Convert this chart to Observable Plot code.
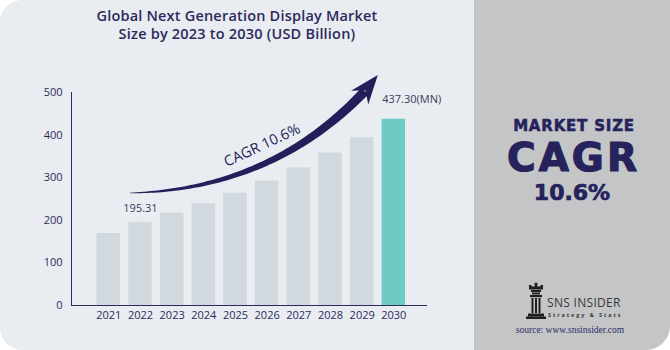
<!DOCTYPE html>
<html>
<head>
<meta charset="utf-8">
<script src="https://cdn.jsdelivr.net/npm/d3@7"></script>
<script src="https://cdn.jsdelivr.net/npm/@observablehq/plot@0.6"></script>
<style>
  body { margin: 0; background: #ffffff; font-family: "Open Sans", sans-serif; }
  #wrap { position: relative; width: 670px; height: 350px; overflow: hidden; background: #ffffff; }
  #left { position: absolute; left: 0; top: 0; width: 474px; height: 350px; background: #e9ecf1; border-radius: 22px 0 0 22px; }
  #right { position: absolute; left: 474px; top: 0; width: 196px; height: 350px; background: #c4c5c7; border-radius: 0 0 24px 0; }
  #title { position: absolute; left: 0; top: 7px; width: 474px; text-align: center; font-weight: 600; font-size: 14.5px; letter-spacing: 0.2px; line-height: 18px; color: #2b2a5c; }
  #chart { position: absolute; left: 0; top: 0; }
  .rt { position: absolute; left: 474px; width: 196px; text-align: center; color: #25225c; font-weight: 700; white-space: nowrap; font-family: "DejaVu Sans", sans-serif; -webkit-text-stroke: 0.5px #25225c; }
  #ms { top: 117.8px; left: 476px; font-size: 15px; line-height: 17px; letter-spacing: 0.8px; }
  #cagr { top: 134.5px; font-size: 39px; line-height: 46px; letter-spacing: 3px; text-indent: 3px; -webkit-text-stroke: 1.2px #25225c; }
  #pct { top: 180.4px; font-size: 22px; line-height: 26px; -webkit-text-stroke: 0.7px #25225c; }
  #logo { position: absolute; left: 526px; top: 282px; }
  #sns { position: absolute; left: 547px; top: 296px; font-size: 12px; line-height: 14px; color: #3a3a3a; letter-spacing: 0.3px; }
  #tag { position: absolute; left: 548px; top: 312px; font-size: 5.5px; line-height: 7px; color: #3a3a3a; letter-spacing: 1.9px; font-weight: 700; }
  #src { position: absolute; left: 472px; width: 196px; top: 325px; text-align: center; font-family: "Liberation Serif", "DejaVu Serif", serif; font-size: 9.5px; color: #2c2a6a; }
</style>
</head>
<body>
<div id="wrap">
  <div id="left"></div>
  <div id="right"></div>
  <div id="title">Global Next Generation Display Market<br>Size by 2023 to 2030 (USD Billion)</div>
  <div id="chart"></div>
  <div class="rt" id="ms">MARKET SIZE</div>
  <div class="rt" id="cagr">CAGR</div>
  <div class="rt" id="pct">10.6%</div>
  <svg id="logo" width="20" height="37" viewBox="0 0 20 37">
    <g fill="#1f1f1f">
      <circle cx="10" cy="2" r="1.6"/>
      <rect x="3" y="4.5" width="14" height="3"/>
      <rect x="3" y="3" width="2.5" height="2"/>
      <rect x="8.7" y="3" width="2.6" height="2"/>
      <rect x="14.5" y="3" width="2.5" height="2"/>
      <rect x="5" y="8" width="10" height="2"/>
      <rect x="6" y="10.5" width="8" height="2"/>
      <rect x="4" y="13" width="12" height="2.2"/>
      <rect x="5.5" y="16" width="2" height="15"/>
      <rect x="9" y="16" width="2" height="15"/>
      <rect x="12.5" y="16" width="2" height="15"/>
      <rect x="2" y="31.5" width="16" height="3"/>
      <rect x="0" y="34.5" width="20" height="2.5"/>
    </g>
  </svg>
  <div id="sns">SNS INSIDER</div>
  <div id="tag">Strategy &amp; Stats</div>
  <div id="src">source: www.snsinsider.com</div>
</div>
<script>
// ---- data ----
const years = ["2021", "2022", "2023", "2024", "2025", "2026", "2027", "2028", "2029", "2030"];
const values = [169, 195.31, 217, 239, 263.5, 292, 323, 357.5, 394, 437.30];
const highlightYear = "2030";
const yTicks = [0, 100, 200, 300, 400, 500];
const startLabel = { year: "2022", value: 195.31, text: "195.31" };
const endLabel = { year: "2030", value: 437.30, text: "437.30(MN)" };
const cagrLabel = { year: "2026", value: 376, text: "CAGR 10.6%" };
// arrow geometry in data units: [band position from start of 2021 band (in steps), value]
const arrowCurve = [[1.05, 263], [5.5, 270], [8.47, 502]];
const arrowTip = [8.88, 540];

const data = years.map((y, i) => ({ year: y, value: values[i] }));

const navy = "#231f5a";

function arrowMark(index, scales) {
  const { x, y } = scales;
  const x0 = x(years[0]);
  const step = x(years[1]) - x(years[0]);
  const P = ([i, v]) => [x0 + i * step, y(v)];
  const [p0, p1, p2] = arrowCurve.map(P);
  const tip = P(arrowTip);
  const N = 80;
  const up = [], lo = [];
  for (let k = 0; k <= N; k++) {
    const t = k / N;
    const bx = (1 - t) * (1 - t) * p0[0] + 2 * (1 - t) * t * p1[0] + t * t * p2[0];
    const by = (1 - t) * (1 - t) * p0[1] + 2 * (1 - t) * t * p1[1] + t * t * p2[1];
    const dx = 2 * (1 - t) * (p1[0] - p0[0]) + 2 * t * (p2[0] - p1[0]);
    const dy = 2 * (1 - t) * (p1[1] - p0[1]) + 2 * t * (p2[1] - p1[1]);
    const len = Math.hypot(dx, dy);
    const nx = -dy / len, ny = dx / len;
    const w = 0.4 + 9.2 * Math.pow(t, 0.75);
    up.push([bx + nx * w / 2, by + ny * w / 2]);
    lo.push([bx - nx * w / 2, by - ny * w / 2]);
  }
  const pts = up.concat(lo.reverse());
  const ns = "http://www.w3.org/2000/svg";
  const g = document.createElementNS(ns, "g");
  const body = document.createElementNS(ns, "path");
  body.setAttribute("d", "M" + pts.map(p => p.join(",")).join("L") + "Z");
  body.setAttribute("fill", navy);
  g.appendChild(body);
  // arrow head
  let ddx = tip[0] - p2[0], ddy = tip[1] - p2[1];
  const L = Math.hypot(ddx, ddy);
  ddx /= L; ddy /= L;
  const px = -ddy, py = ddx;
  const HL = 29, HW = 11;
  const b = [tip[0] - ddx * HL, tip[1] - ddy * HL];
  const b1 = [b[0] + px * HW, b[1] + py * HW];
  const b2 = [b[0] - px * HW, b[1] - py * HW];
  const notch = [tip[0] - ddx * HL * 0.68, tip[1] - ddy * HL * 0.68];
  const head = document.createElementNS(ns, "path");
  head.setAttribute("d", `M${tip.join(",")}L${b1.join(",")}L${notch.join(",")}L${b2.join(",")}Z`);
  head.setAttribute("fill", navy);
  g.appendChild(head);
  return g;
}

const chart = Plot.plot({
  width: 474,
  height: 350,
  marginLeft: 71,
  marginRight: 48,
  marginTop: 92,
  marginBottom: 45,
  style: { background: "transparent", color: "#2d2a5c", fontFamily: "Open Sans", fontSize: "11px", overflow: "visible" },
  x: { domain: years, paddingInner: 0.26, paddingOuter: 0.735, align: 0.55, round: false, tickSize: 0, tickPadding: 6, label: null, line: true },
  y: { domain: [0, 500], ticks: yTicks, tickSize: 0, tickPadding: 9, label: null, line: true },
  marks: [
    Plot.barY(data, { x: "year", y: "value", fill: d => d.year === highlightYear ? "#6ecac4" : "#d1d8de" }),
    Plot.text([startLabel], { x: "year", y: "value", text: "text", dy: -14, fill: "#3b3a5e", fontSize: 11 }),
    Plot.text([endLabel], { x: "year", y: "value", text: "text", dy: -20, dx: -11.6, textAnchor: "start", fill: "#3b3a5e", fontSize: 11 }),
    arrowMark,
    Plot.text([cagrLabel], { x: "year", y: "value", text: "text", dx: -5, rotate: -25, fill: navy, fontSize: 14.5 })
  ]
});
document.getElementById("chart").appendChild(chart);
</script>
</body>
</html>
